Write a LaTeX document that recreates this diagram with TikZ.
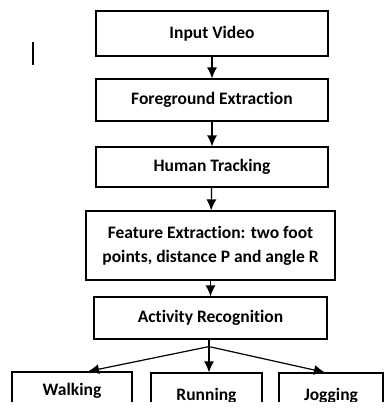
\documentclass[tikz,border=0pt]{standalone}
\usepackage{fontspec}
\setmainfont{Carlito}[Ligatures=NoCommon]
\usetikzlibrary{positioning,calc,arrows.meta}

\begin{document}
\begin{tikzpicture}[x=1pt,y=-1pt,
	every node/.style={font=\bfseries\fontsize{17.5}{24}\selectfont},
	stage/.style={draw,line width=1.2pt,minimum width=232pt,minimum height=42pt,inner sep=2pt,align=center},
	leaf/.style={draw,line width=1.2pt,minimum height=50pt,inner sep=2pt},
	flow/.style={line width=1.2pt,-{Latex[length=11pt,width=10pt]}}]
	
	% fix the page to the reference frame, bottom row is cut off
	\useasboundingbox (0,0) rectangle (385,410);
	\clip (0,0) rectangle (385,401);
	
	% stray mark on the left
	\draw[line width=1.2pt] (33,42) -- (33,65);
	
	% main chain of stages
	\node[stage,minimum height=45pt] (inp) at (212,33.5) {Input Video};
	\node[stage] (fg) at (212,100) {Foreground Extraction};
	\node[stage,minimum height=40pt] (track) at (212,167) {Human Tracking};
	\node[stage,minimum width=249pt,minimum height=69pt] (feat) at (210.5,245.5) {Feature Extraction: two foot\\points, distance P and angle R};
	\node[stage,minimum width=233pt] (act) at (210.5,318) {Activity Recognition};
	
	% the three activities
	\node[leaf,minimum width=120pt,minimum height=38pt] (walk) at (72,391) {Walking};
	\node[leaf,minimum width=111pt,minimum height=46pt] (run) at (206.5,396) {Running};
	\node[leaf,minimum width=104pt,minimum height=46pt] (jog) at (331,396) {Jogging};
	
	\draw[flow] (inp) -- (fg);
	\draw[flow] (fg) -- (track);
	\draw[flow] (track) -- (feat);
	\draw[flow] (feat) -- (act);
	
	% split towards the activities
	\coordinate (split) at ($(act.south)+(-1.5,7)$);
	\draw[line width=1.2pt] (act.south -| split) -- (split);
	\draw[flow] (split) -- ($(walk.north)+(16,0)$);
	\draw[flow] (split) -- (split |- run.north);
	\draw[flow] (split) -- ($(jog.north)+(-6,0)$);
	
\end{tikzpicture}
\end{document}
